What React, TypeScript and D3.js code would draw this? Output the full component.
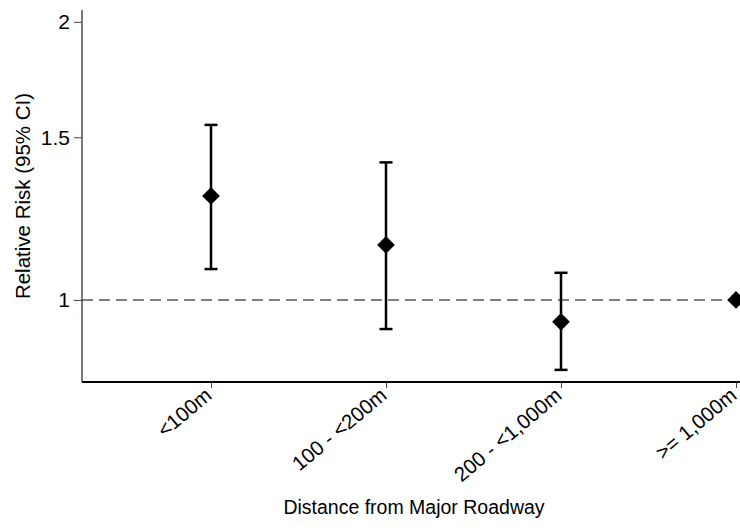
import React, { useEffect, useRef } from "react";
import * as d3 from "d3";

// distance categories and relative risk estimates
const categories = ["<100m", "100 - <200m", "200 - <1,000m", ">= 1,000m"];
const riskValues = [1.296, 1.147, 0.947, 1.0];
const lowerCI = [1.08, 0.93, 0.84, null];
const upperCI = [1.547, 1.409, 1.07, null];
const yTicks = [1, 1.5, 2];

const App = () => {
  const svgRef = useRef<SVGSVGElement>(null);

  useEffect(() => {
    const svg = d3.select(svgRef.current);
    svg.selectAll("*").remove();

    const width = 740, height = 532;
    const left = 82, top = 10, bottom = 382;
    const font = "Liberation Sans, Arial, sans-serif";

    const x = d3.scalePoint<string>().domain(categories).range([211, 736]);
    const y = d3.scaleLog().domain([0.815, 2.06]).range([bottom, top]);

    // reference line at RR = 1
    svg.append("line")
      .attr("x1", left).attr("x2", width)
      .attr("y1", y(1)).attr("y2", y(1))
      .attr("stroke", "#555").attr("stroke-width", 1.6)
      .attr("stroke-dasharray", "11,6");

    // y axis
    const yAxis = svg.append("g")
      .attr("transform", `translate(${left},0)`)
      .call(d3.axisLeft(y).tickValues(yTicks).tickFormat(d3.format("")).tickSize(8).tickPadding(4));
    yAxis.select(".domain").remove();
    yAxis.selectAll(".tick line").attr("stroke", "#444");
    yAxis.selectAll("text").attr("font-family", font).attr("font-size", 21).attr("fill", "#000");
    svg.append("line")
      .attr("x1", left).attr("x2", left).attr("y1", top).attr("y2", bottom)
      .attr("stroke", "#333").attr("stroke-width", 1.3);

    // x axis
    const xAxis = svg.append("g")
      .attr("transform", `translate(0,${bottom})`)
      .call(d3.axisBottom(x).tickSize(6));
    xAxis.select(".domain").remove();
    xAxis.selectAll(".tick line").attr("stroke", "#444");
    xAxis.selectAll("text")
      .attr("font-family", font).attr("font-size", 20.5).attr("fill", "#000")
      .attr("x", 0).attr("y", 0)
      .attr("text-anchor", "end")
      .attr("dy", "0.35em")
      .attr("transform", "translate(-3,10) rotate(-40)");
    svg.append("line")
      .attr("x1", left).attr("x2", width).attr("y1", bottom).attr("y2", bottom)
      .attr("stroke", "#000").attr("stroke-width", 2.2);

    // error bars
    categories.forEach((c, i) => {
      const lo = lowerCI[i], hi = upperCI[i];
      if (lo == null || hi == null) return;
      const cx = x(c)!;
      const g = svg.append("g").attr("stroke", "#000").attr("stroke-width", 2.5);
      g.append("line").attr("x1", cx).attr("x2", cx).attr("y1", y(lo)).attr("y2", y(hi));
      g.append("line").attr("x1", cx - 6.5).attr("x2", cx + 6.5).attr("y1", y(lo)).attr("y2", y(lo));
      g.append("line").attr("x1", cx - 6.5).attr("x2", cx + 6.5).attr("y1", y(hi)).attr("y2", y(hi));
    });

    // diamonds
    const diamond = d3.symbol().type(d3.symbolDiamond2).size(200);
    svg.selectAll(".pt")
      .data(riskValues)
      .join("path")
      .attr("class", "pt")
      .attr("d", diamond)
      .attr("transform", (d, i) => `translate(${x(categories[i])},${y(d)})`)
      .attr("fill", "#000");

    // axis titles
    svg.append("text")
      .attr("transform", `translate(30,${196}) rotate(-90)`)
      .attr("text-anchor", "middle")
      .attr("font-family", font).attr("font-size", 20.5)
      .text("Relative Risk (95% CI)");

    svg.append("text")
      .attr("x", 414).attr("y", height - 18)
      .attr("text-anchor", "middle")
      .attr("font-family", font).attr("font-size", 19.5)
      .text("Distance from Major Roadway");
  }, []);

  return (
    <svg
      ref={svgRef}
      width={740}
      height={532}
      style={{ position: "absolute", left: 0, top: 0, background: "#fff" }}
    ></svg>
  );
};

export default App;
